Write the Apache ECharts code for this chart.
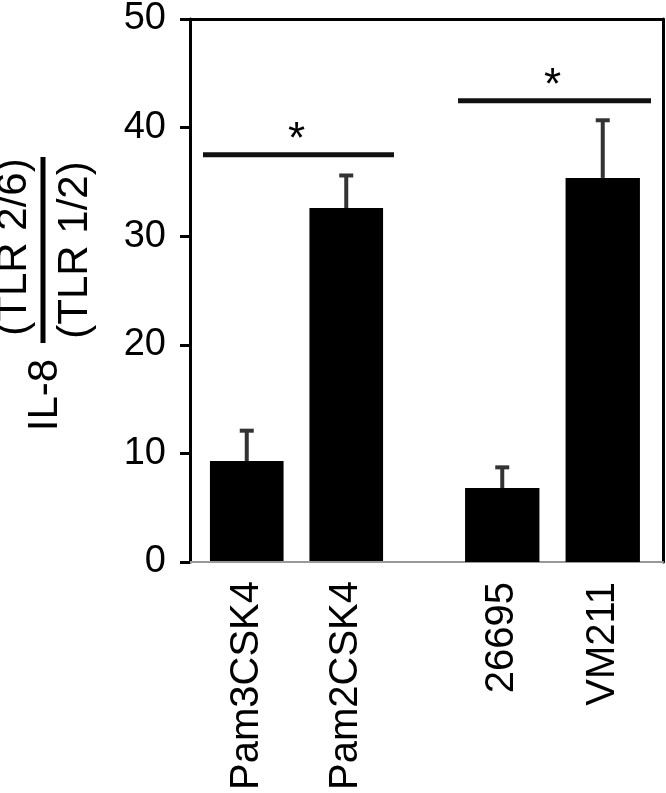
<!DOCTYPE html>
<html>
<head>
<meta charset="utf-8">
<script src="https://cdn.jsdelivr.net/npm/echarts@6/dist/echarts.min.js"></script>
<style>
html,body{margin:0;padding:0;background:#fff;}
#chart{width:666px;height:793px;}
</style>
</head>
<body>
<div id="chart"></div>
<script>
// ---- data ----
var groupA = ['Pam3CSK4', 'Pam2CSK4'];
var groupB = ['26695', 'VM211'];
var meanA = [9.2, 32.5];
var errA = [2.8, 3.0];
var meanB = [6.8, 35.3];
var errB = [1.9, 5.3];
var sigY = [37.4, 42.4];
var sigMark = ['*', '*'];
var yTicks = [0, 10, 20, 30, 40, 50];
var yTitleMain = 'IL-8';
var yTitleNum = '(TLR 2/6)';
var yTitleDen = '(TLR 1/2)';

var FONT = '"Liberation Sans", Arial, Helvetica, sans-serif';

function errRender(params, api) {
  var i = api.value(0);
  var p0 = api.coord([i, api.value(1)]);
  var p1 = api.coord([i, api.value(2)]);
  var cap = 7;
  return {
    type: 'group',
    children: [
      {type: 'line', shape: {x1: p0[0], y1: p0[1], x2: p1[0], y2: p1[1]},
       style: {stroke: '#333', lineWidth: 4}},
      {type: 'line', shape: {x1: p1[0] - cap, y1: p1[1], x2: p1[0] + cap, y2: p1[1]},
       style: {stroke: '#333', lineWidth: 4}}
    ]
  };
}

function makeSigRender(k) {
  return function (params, api) {
    var y = api.value(2);
    var a = api.coord([api.value(0), y]);
    var b = api.coord([api.value(1), y]);
    var band = api.size([1, 0])[0];
    var x0 = a[0] - band * 0.44;
    var x1 = b[0] + band * 0.48;
    var mid = (a[0] + b[0]) / 2;
    return {
      type: 'group',
      children: [
        {type: 'line', shape: {x1: x0, y1: a[1], x2: x1, y2: a[1]},
         style: {stroke: '#111', lineWidth: 5}},
        {type: 'text', x: mid, y: a[1] - 14,
         style: {text: sigMark[k], fill: '#000', font: '44px ' + FONT,
                 align: 'center', verticalAlign: 'middle'}}
      ]
    };
  };
}

function errData(means, errs) {
  return means.map(function (m, i) { return [i, m, m + errs[i]]; });
}

var chart = echarts.init(document.getElementById('chart'), null, {renderer: 'canvas'});

var hiddenY = function (g) {
  return {gridIndex: g, type: 'value', min: yTicks[0], max: yTicks[yTicks.length - 1],
          show: false, splitLine: {show: false}};
};
var catX = function (g, cats) {
  return {gridIndex: g, type: 'category', data: cats,
          axisLine: {show: false}, axisTick: {show: false},
          axisLabel: {rotate: 90, fontSize: 40, fontFamily: FONT, color: '#000', margin: 20},
          splitLine: {show: false}};
};

var option = {
  backgroundColor: '#fff',
  animation: false,
  grid: [
    {left: 190, right: 3, top: 18, bottom: 231},
    {left: 197, width: 199, top: 18, bottom: 231},
    {left: 452, width: 201, top: 18, bottom: 231}
  ],
  xAxis: [
    {gridIndex: 0, type: 'value', min: 0, max: 1, position: 'bottom',
     axisLine: {show: true, onZero: false, lineStyle: {color: '#999', width: 2}},
     axisTick: {show: false}, axisLabel: {show: false}, splitLine: {show: false}},
    {gridIndex: 0, type: 'value', min: 0, max: 1, position: 'top',
     axisLine: {show: true, onZero: false, lineStyle: {color: '#000', width: 3}},
     axisTick: {show: false}, axisLabel: {show: false}, splitLine: {show: false}},
    catX(1, groupA),
    catX(2, groupB)
  ],
  yAxis: [
    {gridIndex: 0, type: 'value', position: 'left', min: 0, max: 50, interval: 10,
     axisLine: {show: true, onZero: false, lineStyle: {color: '#000', width: 3}},
     axisTick: {show: true, inside: false, length: 10, lineStyle: {color: '#000', width: 3}},
     axisLabel: {fontSize: 38, fontFamily: FONT, color: '#000', margin: 24},
     splitLine: {show: false}},
    {gridIndex: 0, type: 'value', position: 'right', min: 0, max: 50,
     axisLine: {show: true, onZero: false, lineStyle: {color: '#000', width: 3}},
     axisTick: {show: false}, axisLabel: {show: false}, splitLine: {show: false}},
    hiddenY(1),
    hiddenY(2)
  ],
  series: [
    {type: 'bar', xAxisIndex: 2, yAxisIndex: 2, data: meanA, barWidth: '74%',
     itemStyle: {color: '#000'}},
    {type: 'bar', xAxisIndex: 3, yAxisIndex: 3, data: meanB, barWidth: '74%',
     itemStyle: {color: '#000'}},
    {type: 'custom', xAxisIndex: 2, yAxisIndex: 2, renderItem: errRender,
     data: errData(meanA, errA), z: 5},
    {type: 'custom', xAxisIndex: 3, yAxisIndex: 3, renderItem: errRender,
     data: errData(meanB, errB), z: 5},
    {type: 'custom', xAxisIndex: 2, yAxisIndex: 2, renderItem: makeSigRender(0),
     data: [[0, 1, sigY[0]]], z: 5},
    {type: 'custom', xAxisIndex: 3, yAxisIndex: 3, renderItem: makeSigRender(1),
     data: [[0, 1, sigY[1]]], z: 5}
  ],
  graphic: [
    {type: 'text', x: 45, y: 395, rotation: Math.PI / 2,
     style: {text: yTitleMain, font: '42px ' + FONT, fill: '#000',
             align: 'center', verticalAlign: 'middle'}},
    {type: 'text', x: 14, y: 247, rotation: Math.PI / 2,
     style: {text: yTitleNum, font: '42px ' + FONT, fill: '#000',
             align: 'center', verticalAlign: 'middle'}},
    {type: 'text', x: 75, y: 250, rotation: Math.PI / 2,
     style: {text: yTitleDen, font: '42px ' + FONT, fill: '#000',
             align: 'center', verticalAlign: 'middle'}},
    {type: 'line', shape: {x1: 43, y1: 157, x2: 43, y2: 343},
     style: {stroke: '#000', lineWidth: 5}}
  ]
};
chart.setOption(option);
</script>
</body>
</html>
